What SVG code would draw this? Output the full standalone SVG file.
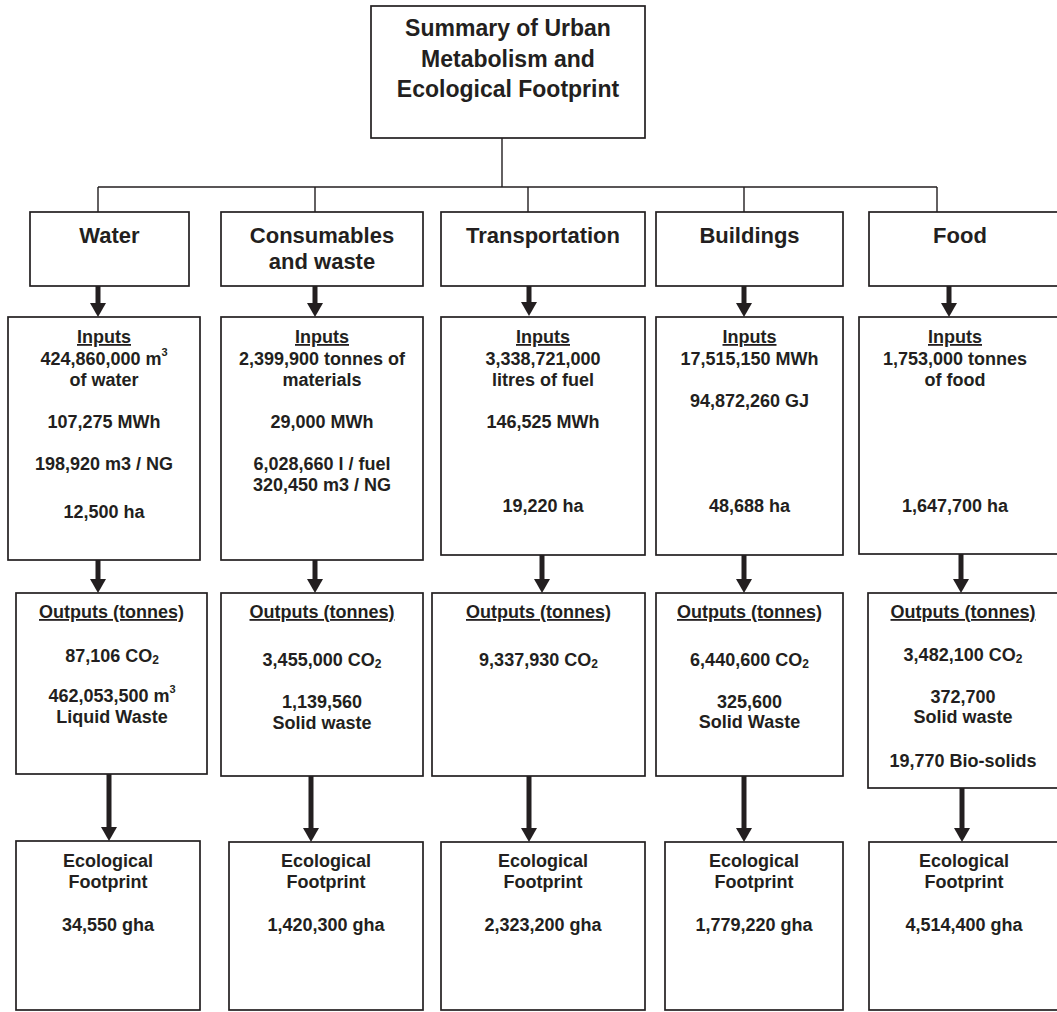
<svg xmlns="http://www.w3.org/2000/svg" width="1057" height="1012" viewBox="0 0 1057 1012">
<style>
.box{fill:#fff;stroke:#231f20;stroke-width:1.7}
.ln{fill:none;stroke:#231f20;stroke-width:1.4}
.ar{fill:none;stroke:#231f20;stroke-width:5}
text{font-family:"Liberation Sans",Arial,sans-serif;font-weight:bold;fill:#231f20;text-anchor:middle}
.t{font-size:23px}
.c{font-size:22px}
.s{font-size:18px}
.u{text-decoration:underline}
</style>
<defs>
<marker id="ah" markerUnits="userSpaceOnUse" markerWidth="14" markerHeight="16" viewBox="0 0 14 16" refX="0" refY="8" orient="auto">
<path d="M0,0 L14,8 L0,16 z" fill="#231f20"/>
</marker>
</defs>
<rect width="1057" height="1012" fill="#fff"/>
<g id="connectors">
<path class="ln" d="M502,138 V187 M98,187 H937 M98,187 V212 M315,187 V212 M528,187 V212 M744,187 V212 M937,187 V212"/>
<line class="ar" x1="98" y1="286" x2="98" y2="303" marker-end="url(#ah)"/>
<line class="ar" x1="315" y1="286" x2="315" y2="303" marker-end="url(#ah)"/>
<line class="ar" x1="529" y1="286" x2="529" y2="302" marker-end="url(#ah)"/>
<line class="ar" x1="744" y1="286" x2="744" y2="303" marker-end="url(#ah)"/>
<line class="ar" x1="949" y1="286" x2="949" y2="303" marker-end="url(#ah)"/>
<line class="ar" x1="98" y1="560" x2="98" y2="579" marker-end="url(#ah)"/>
<line class="ar" x1="315" y1="560" x2="315" y2="579" marker-end="url(#ah)"/>
<line class="ar" x1="542" y1="555" x2="542" y2="579" marker-end="url(#ah)"/>
<line class="ar" x1="744" y1="555" x2="744" y2="579" marker-end="url(#ah)"/>
<line class="ar" x1="961" y1="554" x2="961" y2="579" marker-end="url(#ah)"/>
<line class="ar" x1="109" y1="774" x2="109" y2="827" marker-end="url(#ah)"/>
<line class="ar" x1="311" y1="776" x2="311" y2="828" marker-end="url(#ah)"/>
<line class="ar" x1="529" y1="776" x2="529" y2="828" marker-end="url(#ah)"/>
<line class="ar" x1="744" y1="776" x2="744" y2="828" marker-end="url(#ah)"/>
<line class="ar" x1="962" y1="788" x2="962" y2="828" marker-end="url(#ah)"/>
</g>
<g id="summary">
<rect class="box" x="371" y="6" width="274" height="132"/>
<text class="t" x="508" y="36">Summary of Urban</text>
<text class="t" x="508" y="67">Metabolism and</text>
<text class="t" x="508" y="97">Ecological Footprint</text>
</g>
<g id="cat-water"><rect class="box" x="30" y="212" width="159" height="74"/><text class="c" x="109.5" y="243">Water</text></g>
<g id="cat-consumables"><rect class="box" x="221" y="212" width="202" height="74"/><text class="c" x="322" y="243">Consumables</text><text class="c" x="322" y="269">and waste</text></g>
<g id="cat-transportation"><rect class="box" x="441" y="212" width="204" height="74"/><text class="c" x="543" y="243">Transportation</text></g>
<g id="cat-buildings"><rect class="box" x="656" y="212" width="187" height="74"/><text class="c" x="749.5" y="243">Buildings</text></g>
<g id="cat-food"><rect class="box" x="869" y="212" width="210" height="74"/><text class="c" x="960" y="243">Food</text></g>

<g id="in-water"><rect class="box" x="8" y="317" width="192" height="243"/>
<text class="s u" x="104" y="343">Inputs</text>
<text class="s" x="104" y="365">424,860,000 m<tspan font-size="11" dy="-9">3</tspan></text>
<text class="s" x="104" y="386">of water</text>
<text class="s" x="104" y="428">107,275 MWh</text>
<text class="s" x="104" y="470">198,920 m3 / NG</text>
<text class="s" x="104" y="518">12,500 ha</text></g>
<g id="in-consumables"><rect class="box" x="221" y="317" width="202" height="243"/>
<text class="s u" x="322" y="343">Inputs</text>
<text class="s" x="322" y="365">2,399,900 tonnes of</text>
<text class="s" x="322" y="386">materials</text>
<text class="s" x="322" y="428">29,000 MWh</text>
<text class="s" x="322" y="470">6,028,660 l / fuel</text>
<text class="s" x="322" y="491">320,450 m3 / NG</text></g>
<g id="in-transportation"><rect class="box" x="441" y="317" width="204" height="238"/>
<text class="s u" x="543" y="343">Inputs</text>
<text class="s" x="543" y="365">3,338,721,000</text>
<text class="s" x="543" y="386">litres of fuel</text>
<text class="s" x="543" y="428">146,525 MWh</text>
<text class="s" x="543" y="512">19,220 ha</text></g>
<g id="in-buildings"><rect class="box" x="656" y="317" width="187" height="238"/>
<text class="s u" x="749.5" y="343">Inputs</text>
<text class="s" x="749.5" y="365">17,515,150 MWh</text>
<text class="s" x="749.5" y="407">94,872,260 GJ</text>
<text class="s" x="749.5" y="512">48,688 ha</text></g>
<g id="in-food"><rect class="box" x="859" y="317" width="220" height="237"/>
<text class="s u" x="955" y="343">Inputs</text>
<text class="s" x="955" y="365">1,753,000 tonnes</text>
<text class="s" x="955" y="386">of food</text>
<text class="s" x="955" y="512">1,647,700 ha</text></g>

<g id="out-water"><rect class="box" x="16" y="593" width="191" height="181"/>
<text class="s u" x="111.5" y="618">Outputs (tonnes)</text>
<text class="s" x="112" y="662">87,106 CO<tspan font-size="12" dy="2">2</tspan></text>
<text class="s" x="112" y="702">462,053,500 m<tspan font-size="11" dy="-9">3</tspan></text>
<text class="s" x="112" y="723">Liquid Waste</text></g>
<g id="out-consumables"><rect class="box" x="221" y="593" width="202" height="183"/>
<text class="s u" x="322" y="618">Outputs (tonnes)</text>
<text class="s" x="322" y="666">3,455,000 CO<tspan font-size="12" dy="2">2</tspan></text>
<text class="s" x="322" y="708">1,139,560</text>
<text class="s" x="322" y="729">Solid waste</text></g>
<g id="out-transportation"><rect class="box" x="432" y="593" width="213" height="183"/>
<text class="s u" x="538.5" y="618">Outputs (tonnes)</text>
<text class="s" x="538.5" y="666">9,337,930 CO<tspan font-size="12" dy="2">2</tspan></text></g>
<g id="out-buildings"><rect class="box" x="656" y="593" width="187" height="183"/>
<text class="s u" x="749.5" y="618">Outputs (tonnes)</text>
<text class="s" x="749.5" y="666">6,440,600 CO<tspan font-size="12" dy="2">2</tspan></text>
<text class="s" x="749.5" y="708">325,600</text>
<text class="s" x="749.5" y="728">Solid Waste</text></g>
<g id="out-food"><rect class="box" x="868" y="593" width="211" height="195"/>
<text class="s u" x="963" y="618">Outputs (tonnes)</text>
<text class="s" x="963" y="661">3,482,100 CO<tspan font-size="12" dy="2">2</tspan></text>
<text class="s" x="963" y="703">372,700</text>
<text class="s" x="963" y="723">Solid waste</text>
<text class="s" x="963" y="767">19,770 Bio-solids</text></g>

<g id="ef-water"><rect class="box" x="16" y="841" width="184" height="169"/>
<text class="s" x="108" y="867">Ecological</text><text class="s" x="108" y="888">Footprint</text><text class="s" x="108" y="931">34,550 gha</text></g>
<g id="ef-consumables"><rect class="box" x="229" y="842" width="194" height="168"/>
<text class="s" x="326" y="867">Ecological</text><text class="s" x="326" y="888">Footprint</text><text class="s" x="326" y="931">1,420,300 gha</text></g>
<g id="ef-transportation"><rect class="box" x="441" y="842" width="204" height="168"/>
<text class="s" x="543" y="867">Ecological</text><text class="s" x="543" y="888">Footprint</text><text class="s" x="543" y="931">2,323,200 gha</text></g>
<g id="ef-buildings"><rect class="box" x="665" y="842" width="178" height="168"/>
<text class="s" x="754" y="867">Ecological</text><text class="s" x="754" y="888">Footprint</text><text class="s" x="754" y="931">1,779,220 gha</text></g>
<g id="ef-food"><rect class="box" x="869" y="842" width="210" height="168"/>
<text class="s" x="964" y="867">Ecological</text><text class="s" x="964" y="888">Footprint</text><text class="s" x="964" y="931">4,514,400 gha</text></g>
</svg>
